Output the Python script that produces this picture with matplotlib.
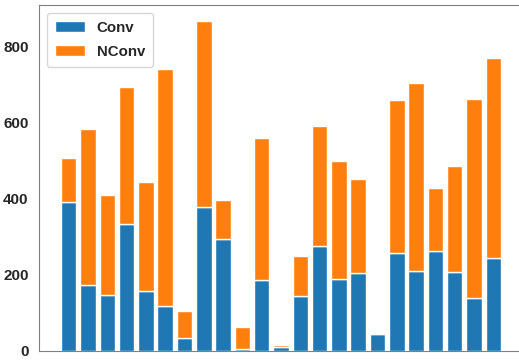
import numpy as np
import matplotlib.pyplot as plt
import seaborn as sns

# per-sample counts, stacked: converged on the bottom, non-converged on top
conv = [392, 173, 148, 334, 159, 118, 35, 378, 294, 5, 188, 10,
        144, 275, 189, 204, 44, 257, 210, 263, 209, 139, 246]
total = [508, 585, 411, 695, 445, 741, 104, 867, 398, 62, 560, 17,
         249, 592, 501, 453, 44, 661, 705, 429, 488, 664, 771]
nconv = [t - c for t, c in zip(total, conv)]

sns.set_style("white")
plt.rcParams["font.family"] = ["Liberation Sans", "DejaVu Sans"]

fig = plt.figure(figsize=(5.19, 3.61), dpi=100)
ax = fig.add_axes([39 / 519, 10 / 361, 484 / 519, 346 / 361])

x = np.arange(len(conv))
ax.bar(x, conv, color="#1f77b4", edgecolor="white", linewidth=1, label="Conv")
ax.bar(x, nconv, bottom=conv, color="#ff7f0e", edgecolor="white",
       linewidth=1, label="NConv")

ax.set_xticks([])
ax.set_yticks([0, 200, 400, 600, 800])
for lab in ax.get_yticklabels():
    lab.set_fontweight("bold")
    lab.set_fontsize(11)
ax.tick_params(axis="y", colors="#262626", pad=4)

for s in ax.spines.values():
    s.set_color("#808080")
ax.spines["right"].set_visible(False)

leg = ax.legend(loc="upper left", prop={"weight": "bold", "size": 10.8},
                handlelength=2.0, labelspacing=0.65, borderpad=0.55)

fig.savefig("out.png", dpi=100)
